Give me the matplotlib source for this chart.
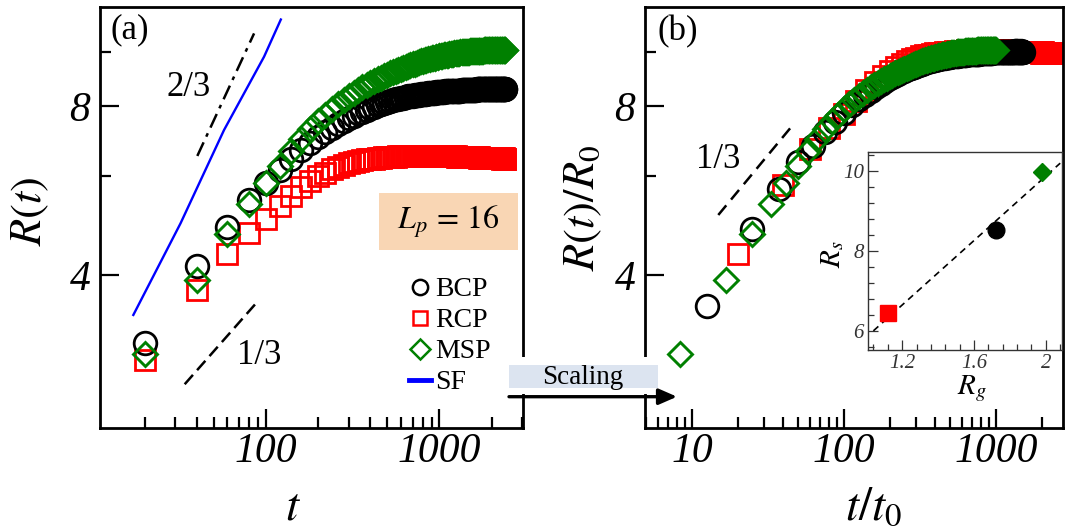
import numpy as np
import matplotlib
matplotlib.use("Agg")
import matplotlib.pyplot as plt
from matplotlib.lines import Line2D
from matplotlib.patches import Rectangle, FancyArrowPatch
from matplotlib.ticker import FixedLocator, NullFormatter, MultipleLocator

plt.rcParams["mathtext.fontset"] = "stix"
plt.rcParams["font.family"] = "Liberation Serif"

W, H = 1065, 530

# simulation output is written every 20 time steps, t = 20 ... 2400
t_steps = np.arange(20, 2401, 20)

# R(t), one row = 10 outputs
r_bcp = [3.03, 4.15, 4.88, 5.45, 5.83, 6.16, 6.44, 6.68, 6.88, 7.05,
         7.19, 7.31, 7.42, 7.52, 7.61, 7.69, 7.76, 7.82, 7.88, 7.93,
         7.98, 8.02, 8.06, 8.10, 8.13, 8.16, 8.19, 8.22, 8.24, 8.26,
         8.28, 8.30, 8.32, 8.33, 8.35, 8.36, 8.37, 8.38, 8.39, 8.40,
         8.41, 8.42, 8.43, 8.43, 8.44, 8.45, 8.45, 8.46, 8.46, 8.47,
         8.47, 8.48, 8.48, 8.49, 8.49, 8.49, 8.50, 8.50, 8.50, 8.51,
         8.51, 8.51, 8.52, 8.52, 8.52, 8.52, 8.53, 8.53, 8.53, 8.53,
         8.54, 8.54, 8.54, 8.54, 8.54, 8.55, 8.55, 8.55, 8.55, 8.55,
         8.55, 8.56, 8.56, 8.56, 8.56, 8.56, 8.56, 8.56, 8.57, 8.57,
         8.57, 8.57, 8.57, 8.57, 8.57, 8.57, 8.57, 8.58, 8.58, 8.58,
         8.58, 8.58, 8.58, 8.58, 8.58, 8.59, 8.58, 8.58, 8.59, 8.58,
         8.58, 8.59, 8.58, 8.58, 8.58, 8.58, 8.59, 8.58, 8.58, 8.58]

r_rcp = [2.83, 3.76, 4.36, 4.75, 5.03, 5.31, 5.54, 5.73, 5.88, 6.00,
         6.09, 6.17, 6.24, 6.29, 6.33, 6.36, 6.39, 6.41, 6.43, 6.44,
         6.45, 6.46, 6.47, 6.48, 6.49, 6.49, 6.50, 6.50, 6.51, 6.51,
         6.51, 6.52, 6.52, 6.52, 6.52, 6.53, 6.53, 6.53, 6.53, 6.53,
         6.53, 6.53, 6.53, 6.53, 6.53, 6.53, 6.53, 6.53, 6.53, 6.52,
         6.52, 6.52, 6.52, 6.52, 6.52, 6.52, 6.51, 6.51, 6.51, 6.51,
         6.51, 6.51, 6.50, 6.50, 6.50, 6.50, 6.50, 6.50, 6.49, 6.49,
         6.49, 6.49, 6.49, 6.49, 6.49, 6.48, 6.48, 6.48, 6.48, 6.48,
         6.48, 6.48, 6.48, 6.48, 6.47, 6.47, 6.47, 6.47, 6.47, 6.47,
         6.47, 6.47, 6.47, 6.47, 6.47, 6.47, 6.47, 6.47, 6.46, 6.47,
         6.46, 6.47, 6.46, 6.46, 6.46, 6.46, 6.46, 6.46, 6.46, 6.46,
         6.46, 6.46, 6.46, 6.45, 6.46, 6.46, 6.45, 6.46, 6.45, 6.45]

r_msp = [2.90, 3.93, 4.74, 5.36, 5.84, 6.27, 6.66, 6.99, 7.27, 7.51,
         7.72, 7.90, 8.06, 8.20, 8.33, 8.44, 8.54, 8.63, 8.71, 8.78,
         8.86, 8.93, 8.99, 9.05, 9.10, 9.15, 9.20, 9.24, 9.28, 9.32,
         9.36, 9.40, 9.43, 9.46, 9.49, 9.52, 9.55, 9.58, 9.60, 9.62,
         9.64, 9.66, 9.68, 9.70, 9.72, 9.74, 9.75, 9.77, 9.78, 9.80,
         9.81, 9.82, 9.84, 9.85, 9.86, 9.87, 9.88, 9.89, 9.90, 9.91,
         9.92, 9.93, 9.94, 9.94, 9.95, 9.96, 9.96, 9.97, 9.98, 9.98,
         9.99, 9.99, 10.00, 10.00, 10.01, 10.01, 10.01, 10.02, 10.02, 10.02,
         10.03, 10.03, 10.03, 10.03, 10.04, 10.04, 10.04, 10.04, 10.04, 10.05,
         10.05, 10.05, 10.05, 10.05, 10.05, 10.05, 10.06, 10.05, 10.06, 10.06,
         10.06, 10.06, 10.06, 10.06, 10.06, 10.06, 10.06, 10.06, 10.06, 10.06,
         10.06, 10.06, 10.06, 10.06, 10.07, 10.06, 10.06, 10.07, 10.06, 10.06]

# scaling constants for panel (b): x = t/t0, y = R/R0
t0_bcp, t0_rcp, t0_msp = 1.6, 1.0, 2.4
r0_bcp, r0_rcp, r0_msp = 0.858, 0.649, 1.0

# SF reference curve
sf_t = [17.2, 32.2, 57.3, 97.5, 121.8]
sf_r = [3.40, 4.95, 7.25, 9.79, 11.4]

# guide slopes
g23_t = [40.2, 85.4]
g23_r = [6.52, 10.77]
g13a_t = [34.0, 89.3]
g13a_r = [2.56, 3.59]
g13b_x = [14.9, 44.2]
g13b_y = [5.12, 7.30]

# inset: Rs vs Rg  (BCP, RCP, MSP)
inset_rg = [1.72, 1.12, 1.98]
inset_rs = [8.52, 6.44, 9.98]
fit_rg = [1.04, 2.08]
fit_rs = [6.0, 10.2]

GREEN = "#008000"
styles = {
    "BCP": dict(marker="o", ms=16.3, mfc="none", mec="black", mew=2.0, ls="none"),
    "RCP": dict(marker="s", ms=14.5, mfc="none", mec="red", mew=2.0, ls="none"),
    "MSP": dict(marker="D", ms=12.5, mfc="none", mec=GREEN, mew=2.1, ls="none"),
}

fig = plt.figure(figsize=(W / 100, H / 100), dpi=100)


def px_axes(x0, y0, x1, y1):
    return fig.add_axes([x0 / W, 1 - y1 / H, (x1 - x0) / W, (y1 - y0) / H])


def ftext(x, y, s, **kw):
    kw.setdefault("ha", "center")
    kw.setdefault("va", "center")
    return fig.text(x / W, 1 - y / H, s, **kw)


def style_main(ax, xlim, xmajor, xlabels):
    ax.set_xscale("log")
    ax.set_yscale("log")
    ax.set_xlim(*xlim)
    ax.set_ylim(2.14, 12.0)
    ax.set_xticks(xmajor, labels=xlabels, fontstyle="italic", fontsize=30)
    ax.xaxis.set_minor_formatter(NullFormatter())
    ax.set_yticks([4, 8], labels=["4", "8"], fontstyle="italic", fontsize=30)
    ax.yaxis.set_minor_locator(FixedLocator([6, 10]))
    ax.yaxis.set_minor_formatter(NullFormatter())
    ax.tick_params(which="both", direction="in", width=1.6, top=False, right=False)
    ax.tick_params(which="major", length=14)
    ax.tick_params(which="minor", length=8)
    ax.tick_params(axis="x", pad=3)
    ax.tick_params(axis="y", pad=7)
    for sp in ax.spines.values():
        sp.set_linewidth(2.0)


# ---------------- panel (a)
ax_a = px_axes(100, 7, 523, 428)
ax_a.plot(t_steps, r_rcp, **styles["RCP"])
ax_a.plot(t_steps, r_bcp, **styles["BCP"])
ax_a.plot(t_steps, r_msp, **styles["MSP"])
ax_a.plot(sf_t, sf_r, color="blue", lw=1.7)
ax_a.plot(g23_t, g23_r, color="black", lw=1.8, dashes=(6, 2.5, 1.5, 2.5))
ax_a.plot(g13a_t, g13a_r, color="black", lw=1.8, dashes=(5, 2.5))
style_main(ax_a, (11.05, 3030), [100, 1000], ["100", "1000"])

handles = [
    Line2D([], [], marker="o", ms=11, mfc="none", mec="black", mew=1.8, ls="none"),
    Line2D([], [], marker="s", ms=9.5, mfc="none", mec="red", mew=1.8, ls="none"),
    Line2D([], [], marker="D", ms=10, mfc="none", mec=GREEN, mew=1.8, ls="none"),
    Line2D([], [], color="blue", lw=3.5),
]
fig.legend(handles, ["BCP", "RCP", "MSP", "SF"], loc="upper left",
           bbox_to_anchor=(409 / W, 1 - 277 / H), frameon=False,
           prop={"family": "Liberation Serif", "size": 20},
           handlelength=0.8, handletextpad=0.15, labelspacing=0.2,
           borderpad=0, borderaxespad=0)

# ---------------- panel (b)
ax_b = px_axes(645, 7, 1063, 428)
ax_b.plot(t_steps / t0_rcp, np.array(r_rcp) / r0_rcp, **styles["RCP"])
ax_b.plot(t_steps / t0_bcp, np.array(r_bcp) / r0_bcp, **styles["BCP"])
ax_b.plot(t_steps / t0_msp, np.array(r_msp) / r0_msp, **styles["MSP"])
ax_b.plot(g13b_x, g13b_y, color="black", lw=1.8, dashes=(5, 3))
style_main(ax_b, (4.91, 2760), [10, 100, 1000], ["10", "100", "1000"])

# ---------------- inset
ax_in = px_axes(868, 152, 1062, 350)
ax_in.plot(fit_rg, fit_rs, color="black", lw=1.2, dashes=(4, 3))
ax_in.plot(inset_rg[0], inset_rs[0], marker="o", ms=12, color="black", ls="none")
ax_in.plot(inset_rg[1], inset_rs[1], marker="s", ms=11, color="red", ls="none")
ax_in.plot(inset_rg[2], inset_rs[2], marker="D", ms=9, color=GREEN, ls="none")
ax_in.set_xlim(1.01, 2.09)
ax_in.set_ylim(5.52, 10.48)
ax_in.set_xticks([1.2, 1.6, 2.0], labels=["1.2", "1.6", "2"], fontstyle="italic", fontsize=15)
ax_in.set_yticks([6, 8, 10], labels=["6", "8", "10"], fontstyle="italic", fontsize=15)
ax_in.xaxis.set_minor_locator(MultipleLocator(0.08))
ax_in.yaxis.set_minor_locator(MultipleLocator(0.4))
ax_in.tick_params(which="both", direction="in", width=0.9, colors="#333333")
ax_in.tick_params(which="major", length=7, pad=3)
ax_in.tick_params(which="minor", length=4)
for sp in ax_in.spines.values():
    sp.set_linewidth(1.0)
    sp.set_color("#333333")

# ---------------- texts
ftext(130, 30, "(a)", fontsize=25)
ftext(678, 32, "(b)", fontsize=25)
ftext(189, 87, "2/3", fontsize=25)
ftext(259, 355, "1/3", fontsize=25)
ftext(718, 159, "1/3", fontsize=25)

ftext(293, 508, r"$t$", fontsize=34)
ftext(874, 508, r"$t/t_0$", fontsize=34)
ftext(30, 211, r"$R(t)$", fontsize=32, rotation=90)
ftext(583, 208, r"$R(t)/R_0$", fontsize=32, rotation=90)
ftext(833, 254, r"$R_s$", fontsize=21, rotation=90)
ftext(972, 389, r"$R_g$", fontsize=21)

# Lp box
fig.add_artist(Rectangle((379 / W, 1 - 250 / H), 139 / W, 57 / H,
                         transform=fig.transFigure, facecolor="#F9D6B4",
                         edgecolor="none", zorder=2))
ftext(448, 222, r"$L_p\,=\,16$", fontsize=23, zorder=3)

# Scaling box and arrow between the panels
fig.add_artist(Rectangle((505 / W, 1 - 394 / H), 157 / W, 37 / H,
                         transform=fig.transFigure, facecolor="white",
                         edgecolor="none", zorder=2))
fig.add_artist(Rectangle((509 / W, 1 - 388 / H), 149 / W, 23 / H,
                         transform=fig.transFigure, facecolor="#DCE4F0",
                         edgecolor="none", zorder=3))
ftext(583, 377, "Scaling", fontsize=19.5, zorder=4)
fig.add_artist(FancyArrowPatch((509 / W, 1 - 396.7 / H), (677 / W, 1 - 396.7 / H),
                               transform=fig.transFigure,
                               arrowstyle="-|>,head_length=0.55,head_width=0.24",
                               mutation_scale=20, lw=2.4, color="black",
                               shrinkA=0, shrinkB=0, zorder=5))

fig.savefig("out.png", dpi=100)
